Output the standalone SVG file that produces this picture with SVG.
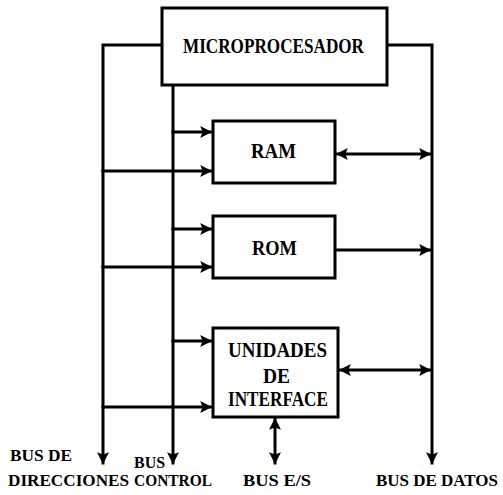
<svg xmlns="http://www.w3.org/2000/svg" width="503" height="495" viewBox="0 0 503 495">
<style>
.box{fill:#fff;stroke:#000;stroke-width:3}
.ln{fill:none;stroke:#000;stroke-width:3;stroke-linecap:square}
text{font-family:"Liberation Serif","Times New Roman",serif;font-weight:bold;fill:#000}
.t{font-size:22px}
.l{font-size:17px}
</style>
<defs>
<marker id="ah" markerUnits="userSpaceOnUse" markerWidth="12" markerHeight="12" refX="9" refY="5" orient="auto-start-reverse" viewBox="0 0 10 10">
<path d="M0,0 L10,5 L0,10 L2,5 Z" fill="#000"/>
</marker>
</defs>
<rect width="503" height="495" fill="#fff"/>
<g id="connectors">
<path class="ln" d="M162,45 H103 V463" marker-end="url(#ah)"/>
<path class="ln" d="M173,86 V463" marker-end="url(#ah)"/>
<path class="ln" d="M387,45 H432 V463" marker-end="url(#ah)"/>
<path class="ln" d="M173,132 H211" marker-end="url(#ah)"/>
<path class="ln" d="M103,171 H211" marker-end="url(#ah)"/>
<path class="ln" d="M337,154 H430" marker-start="url(#ah)" marker-end="url(#ah)"/>
<path class="ln" d="M173,229 H211" marker-end="url(#ah)"/>
<path class="ln" d="M103,267 H211" marker-end="url(#ah)"/>
<path class="ln" d="M335,250 H430" marker-end="url(#ah)"/>
<path class="ln" d="M173,341 H211" marker-end="url(#ah)"/>
<path class="ln" d="M103,407 H211" marker-end="url(#ah)"/>
<path class="ln" d="M340,370 H430" marker-start="url(#ah)" marker-end="url(#ah)"/>
<path class="ln" d="M275,419 V463" marker-start="url(#ah)" marker-end="url(#ah)"/>
</g>
<g id="microprocesador">
<rect class="box" x="162" y="8" width="225" height="77"/>
<text class="t" x="183" y="53" textLength="181" lengthAdjust="spacingAndGlyphs">MICROPROCESADOR</text>
</g>
<g id="ram">
<rect class="box" x="213" y="121" width="122" height="62"/>
<text class="t" x="251" y="158" textLength="45" lengthAdjust="spacingAndGlyphs">RAM</text>
</g>
<g id="rom">
<rect class="box" x="213" y="216" width="122" height="62"/>
<text class="t" x="252" y="255" textLength="45" lengthAdjust="spacingAndGlyphs">ROM</text>
</g>
<g id="interface">
<rect class="box" x="213" y="328" width="125" height="89"/>
<text class="t" x="228" y="357" textLength="99" lengthAdjust="spacingAndGlyphs">UNIDADES</text>
<text class="t" x="263" y="383" textLength="27" lengthAdjust="spacingAndGlyphs">DE</text>
<text class="t" x="228" y="406" textLength="100" lengthAdjust="spacingAndGlyphs">INTERFACE</text>
</g>
<g id="labels">
<text class="l" x="10" y="461" textLength="62" lengthAdjust="spacingAndGlyphs">BUS DE</text>
<text class="l" x="8" y="486" textLength="121" lengthAdjust="spacingAndGlyphs">DIRECCIONES</text>
<text class="l" x="134" y="468" textLength="31" lengthAdjust="spacingAndGlyphs">BUS</text>
<text class="l" x="134" y="486" textLength="78" lengthAdjust="spacingAndGlyphs">CONTROL</text>
<text class="l" x="243" y="486" textLength="68" lengthAdjust="spacingAndGlyphs">BUS E/S</text>
<text class="l" x="376" y="486" textLength="122" lengthAdjust="spacingAndGlyphs">BUS DE DATOS</text>
</g>
</svg>
